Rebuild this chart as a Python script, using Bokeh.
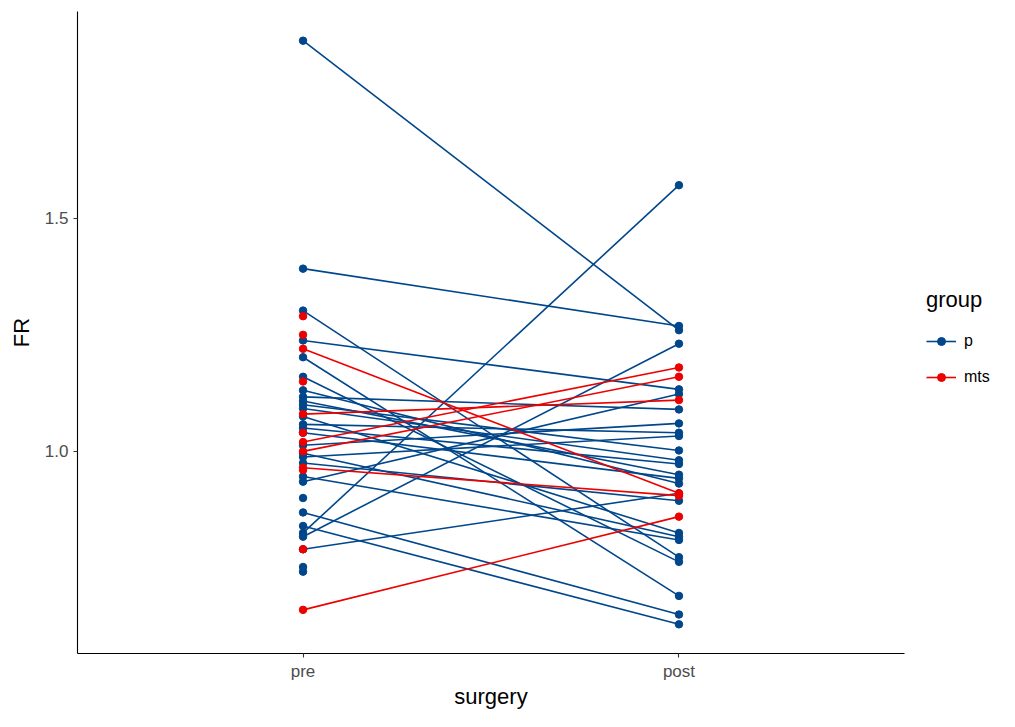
import math
from bokeh.plotting import figure
from bokeh.layouts import row
from bokeh.models import Range1d, FixedTicker, Legend, LegendItem, ColumnDataSource
from bokeh.embed import file_html
from bokeh.resources import INLINE

surgery = ["pre", "post"]
groups = ["p", "mts"]
nan = float("nan")

# group "p": paired FR values (pre, post); nan = no post value
pre_p = [1.881, 1.392, 1.302, 1.238, 1.202, 1.160, 1.131, 1.117, 1.108, 1.100,
         1.092, 1.075, 1.058, 1.050, 1.040, 1.013, 0.996, 0.988, 0.975, 0.946,
         0.935, 0.869, 0.840, 0.825, 0.817, 0.790, 0.900, 0.752, 0.742]
post_p = [1.260, 1.269, 0.773, 1.133, 0.690, 0.763, 0.931, 1.090, 0.950, 1.002,
          0.981, 0.825, 1.040, 0.973, 0.942, 1.060, 0.817, 1.033, 0.894, 0.810,
          1.123, 0.650, 0.629, 1.571, 1.231, 0.910, nan, nan, nan]

# group "mts"
pre_mts = [1.290, 1.250, 1.220, 1.150, 1.080, 1.040, 1.020, 1.000, 0.965, 0.960, 0.790, 0.660]
post_mts = [nan, nan, 0.910, nan, 1.110, nan, 1.180, 1.160, 0.905, nan, nan, 0.860]

y_breaks = [1.0, 1.5]
colors = {"p": "#00468B", "mts": "#ED0000"}
data = {"p": (pre_p, post_p), "mts": (pre_mts, post_mts)}

allv = [v for g in groups for arr in data[g] for v in arr if not math.isnan(v)]
lo, hi = min(allv), max(allv)
ex = (hi - lo) * 0.05

p = figure(width=910, height=711, output_backend="svg", toolbar_location=None,
           x_range=Range1d(0.4, 2.6), y_range=Range1d(lo - ex, hi + ex),
           min_border_left=77, min_border_right=6, min_border_top=11, min_border_bottom=50)
p.outline_line_color = None
p.xgrid.visible = False
p.ygrid.visible = False
p.background_fill_color = "white"
p.border_fill_color = "white"

seg_r = {}
pt_r = {}
for g in groups:
    pre, post = data[g]
    src = ColumnDataSource(dict(x0=[1] * len(pre), y0=pre, x1=[2] * len(post), y1=post))
    seg_r[g] = p.segment(x0="x0", y0="y0", x1="x1", y1="y1", source=src,
                         line_color=colors[g], line_width=1.6)
for g in groups:
    pre, post = data[g]
    xs = [1] * len(pre) + [2 for v in post if not math.isnan(v)]
    ys = list(pre) + [v for v in post if not math.isnan(v)]
    pt_r[g] = p.scatter(x=xs, y=ys, size=7.5, fill_color=colors[g], line_color=colors[g])

for ax in (p.xaxis[0], p.yaxis[0]):
    ax.axis_line_color = "black"
    ax.axis_line_width = 1.1
    ax.major_tick_line_color = "#333333"
    ax.major_tick_line_width = 1.1
    ax.major_tick_in = 0
    ax.major_tick_out = 4
    ax.minor_tick_line_color = None
    ax.major_label_text_color = "#4D4D4D"
    ax.major_label_text_font = "Liberation Sans"
    ax.major_label_text_font_size = "17px"
    ax.axis_label_text_font = "Liberation Sans"
    ax.axis_label_text_font_size = "22px"
    ax.axis_label_text_font_style = "normal"
    ax.axis_label_text_color = "black"

p.xaxis.ticker = FixedTicker(ticks=[1, 2])
p.xaxis.major_label_overrides = {1: surgery[0], 2: surgery[1]}
p.xaxis.axis_label = "surgery"
p.xaxis.major_label_standoff = 4
p.xaxis.axis_label_standoff = 0
p.yaxis.ticker = FixedTicker(ticks=y_breaks)
p.yaxis.major_label_overrides = {1.0: "1.0", 1.5: "1.5", 1: "1.0"}
p.yaxis.axis_label = "FR"
p.yaxis.axis_label_standoff = 8

# legend panel (its glyphs sit outside the panel's visible range)
q = figure(width=89, height=711, output_backend="svg", toolbar_location=None,
           x_range=Range1d(0, 1), y_range=Range1d(0, 1),
           x_axis_location=None, y_axis_location=None,
           min_border_left=0, min_border_right=0, min_border_top=0, min_border_bottom=0)
q.outline_line_color = None
q.xgrid.visible = False
q.ygrid.visible = False
items = []
for g in groups:
    r1 = q.segment(x0=[5], y0=[5], x1=[6], y1=[6],
                   line_color=colors[g], line_width=1.6)
    r2 = q.scatter(x=[5], y=[5], size=7.5, fill_color=colors[g], line_color=colors[g])
    items.append(LegendItem(label=g, renderers=[r1, r2]))

legend = Legend(items=items, title="group", location=(16, 258))
legend.title_text_font = "Liberation Sans"
legend.title_text_font_size = "22px"
legend.title_text_font_style = "normal"
legend.title_text_color = "black"
legend.title_standoff = 10
legend.label_text_font = "Liberation Sans"
legend.label_text_font_size = "16px"
legend.label_text_color = "black"
legend.glyph_width = 30
legend.glyph_height = 20
legend.label_height = 36
legend.spacing = 0
legend.label_standoff = 8
legend.padding = 5
legend.margin = 0
legend.border_line_color = None
legend.background_fill_color = None
q.add_layout(legend)

layout = row(p, q, spacing=0)
open("out.html", "w").write(file_html(layout, INLINE))
